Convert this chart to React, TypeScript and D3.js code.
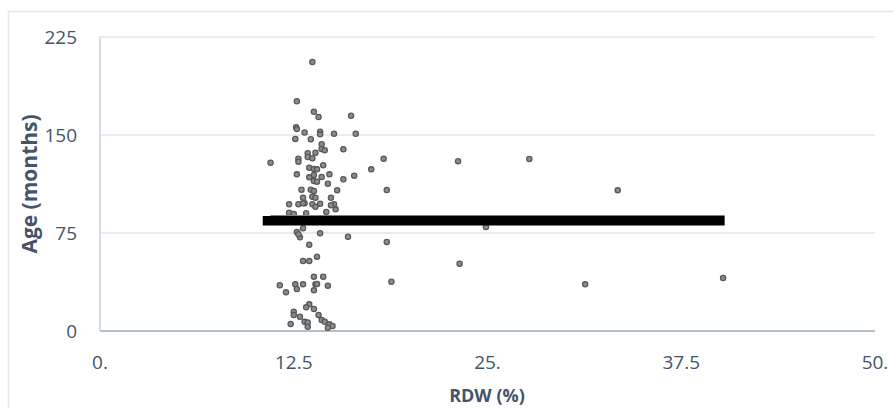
import React from "react";
import * as d3 from "d3";

const W = 894, H = 408;

// RDW (%) values
const rdw = [
  13.7, 12.7, 13.8, 14.1, 16.2, 12.65, 12.7, 13.2, 14.2, 14.2, 15.1, 16.5, 12.6, 13.6,
  14.3, 14.3, 14.5, 15.7, 13.4, 13.9, 13.4, 13.7, 12.8, 12.8, 11.0, 18.3, 17.5, 18.5,
  14.4, 13.5, 13.8, 14.0, 12.7, 13.5, 13.8, 14.3, 14.8, 13.8, 14.0, 14.7, 15.7, 16.4,
  13.0, 13.6, 13.8, 15.3, 13.1, 13.7, 13.9, 14.9, 12.2, 12.8, 13.2, 13.7, 14.2, 15.1,
  13.1, 13.9, 14.9, 15.2, 12.2, 12.5, 13.3, 14.6, 13.1, 12.7, 12.9, 12.8, 14.2, 16.0,
  18.5, 13.5, 13.1, 13.5, 14.0, 13.8, 14.4, 11.6, 12.0, 12.6, 12.7, 13.1, 13.9, 14.0,
  13.8, 14.7, 18.8, 13.5, 13.3, 13.8, 12.5, 12.5, 12.9, 14.1, 13.2, 12.3, 13.4, 13.4,
  14.3, 14.5, 14.8, 15.0, 14.7, 23.1, 27.7, 24.9, 23.2, 33.4, 40.2, 31.3,
];

// Age (months) values
const age = [
  205.9, 175.8, 167.8, 163.8, 164.8, 155.9, 154.5, 152.0, 152.5, 150.5, 151.0, 151.0, 147.0, 146.7,
  142.9, 139.3, 138.3, 139.0, 136.0, 136.5, 133.2, 132.2, 131.9, 129.6, 128.8, 131.9, 123.7, 107.9,
  126.8, 125.0, 124.0, 123.7, 119.9, 117.6, 119.4, 117.9, 119.9, 114.8, 114.3, 112.7, 116.1, 118.9,
  108.1, 108.1, 107.1, 107.7, 102.0, 102.8, 102.0, 102.0, 97.0, 97.0, 97.7, 97.0, 97.4, 97.0,
  97.7, 95.1, 96.2, 93.1, 90.5, 89.5, 90.1, 91.1, 78.6, 75.8, 71.7, 74.0, 74.8, 72.2,
  68.1, 66.0, 53.6, 53.6, 56.9, 41.6, 41.6, 35.0, 29.6, 35.7, 32.1, 35.7, 35.7, 36.0,
  31.1, 34.7, 37.7, 20.4, 18.1, 16.8, 14.8, 12.3, 10.9, 12.2, 7.1, 5.4, 6.6, 3.3,
  8.4, 7.0, 5.1, 3.8, 2.5, 129.9, 131.6, 79.6, 51.5, 107.7, 40.6, 35.7,
];

// thick black mean bar and its grey edge line
const meanX = [10.5, 40.3];
const meanY = [84.3, 84.3];
const edgeX = [11.0, 40.3];
const edgeY = [88.4, 88.4];

const xTicks = [0, 12.5, 25, 37.5, 50];
const xTickLabels = ["0.", "12.5", "25.", "37.5", "50."];
const yTicks = [0, 75, 150, 225];

const margin = { left: 100, right: 19, top: 37, bottom: 77 };

export default function App() {
  const x = d3.scaleLinear().domain([0, 50]).range([margin.left, W - margin.right]);
  const y = d3.scaleLinear().domain([0, 225]).range([H - margin.bottom, margin.top]);
  const line = d3.line<number>().x(v => x(v)).y((_, i) => y(meanY[i]));
  const edge = d3.line<number>().x(v => x(v)).y((_, i) => y(edgeY[i]));
  const txt = "#44546a";
  const font = "'Open Sans', 'Liberation Sans', sans-serif";

  return (
    <svg width={W} height={H} style={{ position: "absolute", left: 0, top: 0, background: "#fff" }}
      fontFamily={font}>
      <rect x={8.5} y={11.5} width={W} height={420} fill="#fff" stroke="#e3e6ea" strokeWidth={1.5} />
      {yTicks.map(t => (
        <line key={"g" + t} x1={x(0)} x2={x(50)} y1={y(t)} y2={y(t)}
          stroke={t === 0 ? "#b4bfcc" : "#e1e5ea"} strokeWidth={t === 0 ? 2 : 1.5} />
      ))}
      <line x1={x(0)} x2={x(0)} y1={y(0)} y2={y(225)} stroke="#c9d1db" strokeWidth={1.5} />
      {yTicks.map(t => (
        <text key={"yl" + t} x={77} y={y(t)} dy="0.36em" textAnchor="end" fontSize={19} fill={txt}>{t}</text>
      ))}
      {xTicks.map((t, i) => (
        <text key={"xl" + t} x={x(t)} y={y(0) + 31} dy="0.36em" textAnchor="middle" fontSize={19} fill={txt}>{xTickLabels[i]}</text>
      ))}
      <text x={487} y={402} textAnchor="middle" fontSize={18} fontWeight="bold" fill={txt}>RDW (%)</text>
      <text transform={`translate(29,${(y(0) + y(225)) / 2}) rotate(-90)`} dy="0.36em" textAnchor="middle"
        fontSize={21} fontWeight="bold" fill={txt}>Age (months)</text>
      <g>
        {rdw.map((v, i) => (
          <circle key={i} cx={x(v)} cy={y(age[i])} r={2.6} fill="#8c8c8c" stroke="#595959" strokeWidth={1.3} />
        ))}
      </g>
      <path d={line(meanX) || ""} stroke="#000" strokeWidth={9.5} fill="none" />
      <path d={edge(edgeX) || ""} stroke="#7f7f7f" strokeWidth={1.2} fill="none" />
    </svg>
  );
}
